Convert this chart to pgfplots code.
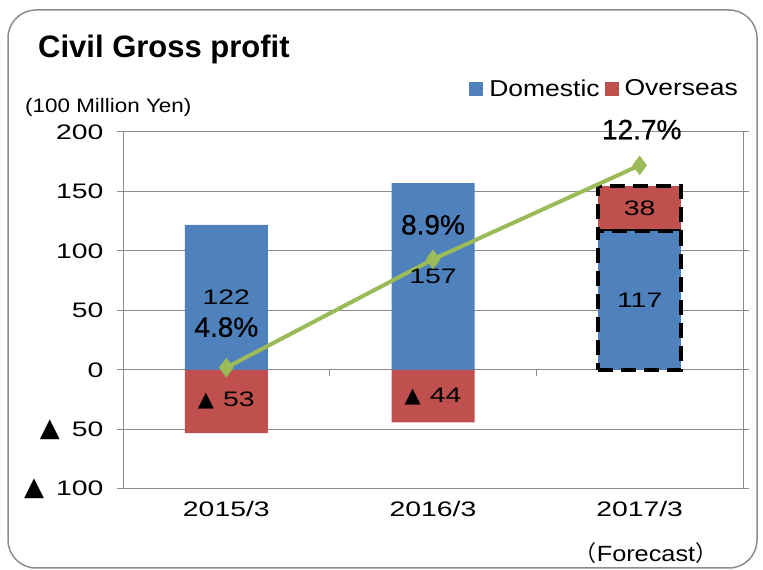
\documentclass[border=0pt]{standalone}
\usepackage{pgfplots}
\pgfplotsset{compat=1.18}
\usepackage{fontspec}
\setmainfont{Liberation Sans}
\newfontfamily\symfont{DejaVu Sans}
\newfontfamily\cjk{Noto Sans CJK JP}
\newfontfamily\widefont[FakeStretch=1.35]{Liberation Sans}
\newfontfamily\legfont[FakeStretch=1.15]{Liberation Sans}
\newfontfamily\pctfont[FakeBold=0.8]{Liberation Sans}
\definecolor{dom}{HTML}{4F81BD}
\definecolor{ovs}{HTML}{C0504D}
\definecolor{gr}{HTML}{9BBB59}
\definecolor{gridc}{HTML}{8C8C8C}
\newcommand{\tri}{{\symfont\fontsize{26}{26}\selectfont ▲}}
\newcommand{\trib}{{\symfont\fontsize{21}{21}\selectfont ▲}}
\pgfplotsset{base/.style={at={(123pt,81pt)}, anchor=south west, scale only axis,
  width=620pt, height=357pt, xmin=-0.5, xmax=2.5, ymin=-100, ymax=200, clip=false}}
\begin{document}
\begin{tikzpicture}[x=1pt,y=1pt]
\useasboundingbox (0,0) rectangle (763,570);
\draw[gridc, line width=1.5pt, rounded corners=28pt] (8,2) rectangle (757,560);
\node[anchor=base west, font=\bfseries\fontsize{31}{31}\selectfont, inner sep=0pt] at (38,512) {Civil Gross profit};
\node[anchor=base west, font=\legfont\fontsize{19.5}{19.5}\selectfont, inner sep=0pt] at (25,457) {(100 Million Yen)};
\node[font=\legfont\fontsize{22}{22}\selectfont] at (646,17) {{\cjk （}Forecast{\cjk ）}};
\begin{axis}[base,
  ytick={-100,-50,0,50,100,150,200},
  yticklabels={{\tri\hspace{12pt}100}, {\tri\hspace{12pt}50}, 0, 50, 100, 150, 200},
  xtick={0,1,2}, xticklabels={2015/3,2016/3,2017/3},
  ymajorgrids, grid style={gridc, line width=1pt},
  axis line style={gridc, line width=1pt},
  x tick style={draw=none},
  y tick style={gridc, line width=1pt},
  tick align=outside, major tick length=6pt,
  tick label style={font=\widefont\fontsize{21}{21}\selectfont},
  yticklabel style={xshift=-10pt},
  xticklabel style={yshift=-3pt},
  legend style={at={(axis description cs:1,1)}, anchor=south east, yshift=32pt, xshift=-3pt,
    draw=none, fill=none, font=\legfont\fontsize{23}{23}\selectfont,
    /tikz/every even column/.append style={column sep=3pt},
    legend cell align=left, inner sep=0pt},
  legend columns=2,
  legend image code/.code={\path (0pt,0pt) -- (18pt,0pt); \fill[#1] (0pt,-7pt) rectangle (14pt,7pt);},
]
\addplot[ybar, bar width=83pt, bar shift=0pt, fill=dom, draw=none] coordinates {(0,122) (1,157)};
\addlegendentry{Domestic}
\addplot[ybar, bar width=83pt, bar shift=0pt, fill=ovs, draw=none] coordinates {(0,-53) (1,-44)};
\addlegendentry{Overseas}
\draw[gridc, line width=1pt] (axis cs:0.5,0) -- ++(0pt,-6pt);
\draw[gridc, line width=1pt] (axis cs:1.5,0) -- ++(0pt,-6pt);
\end{axis}
\begin{axis}[base, hide axis, ybar stacked, bar width=83pt]
\addplot[fill=dom, draw=black, line width=4pt, dash pattern=on 15pt off 8pt] coordinates {(2,117)};
\addplot[fill=ovs, draw=black, line width=4pt, dash pattern=on 15pt off 8pt] coordinates {(2,38)};
\end{axis}
\begin{axis}[base, hide axis]
\addplot[gr, line width=4pt, mark=diamond*, mark size=9pt, mark options={fill=gr, draw=gr, line width=1pt}] coordinates {(0,2) (1,93) (2,172)};
\begin{scope}[every node/.style={font=\widefont\fontsize{21}{21}\selectfont}]
\node at (axis cs:0,61) {122};
\node at (axis cs:0,-26) {\trib\hspace{9pt}53};
\node at (axis cs:1,79) {157};
\node at (axis cs:1,-22) {\trib\hspace{9pt}44};
\node at (axis cs:2,59) {117};
\node at (axis cs:2,136) {38};
\end{scope}
\begin{scope}[every node/.style={font=\pctfont\fontsize{28}{28}\selectfont}]
\node at (axis cs:0,36) {4.8\%};
\node at (axis cs:1,122) {8.9\%};
\node at (axis cs:2.01,202) {12.7\%};
\end{scope}
\end{axis}
\end{tikzpicture}
\end{document}
